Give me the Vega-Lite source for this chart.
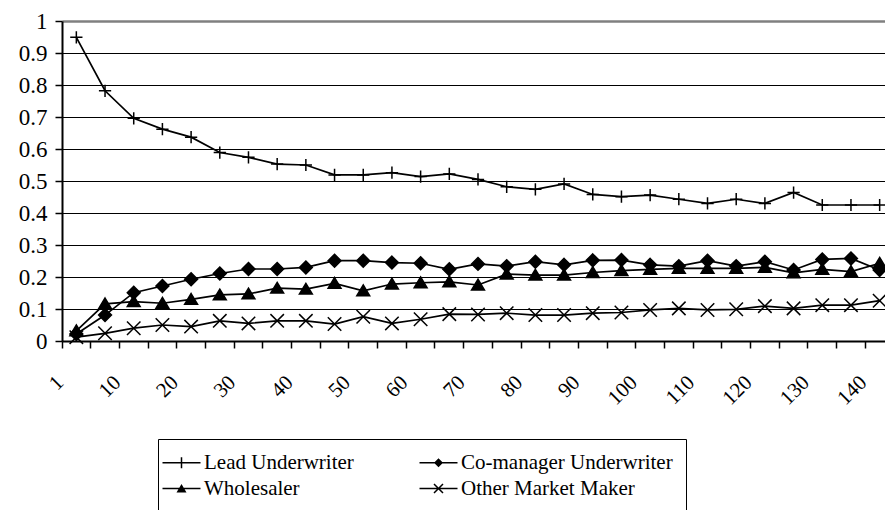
{
"$schema": "https://vega.github.io/schema/vega-lite/v6.json",
"autosize": "none",
"width": 823, "height": 320,
"padding": {"left": 62, "top": 21, "right": 0, "bottom": 169},
"background": "white",
"config": {"view": {"stroke": null}, "font": "Liberation Serif"},
"data": {"values": [
{"rank":1,"series":"Lead Underwriter","value":0.949},{"rank":5,"series":"Lead Underwriter","value":0.782},{"rank":10,"series":"Lead Underwriter","value":0.696},{"rank":15,"series":"Lead Underwriter","value":0.662},{"rank":20,"series":"Lead Underwriter","value":0.637},{"rank":25,"series":"Lead Underwriter","value":0.589},{"rank":30,"series":"Lead Underwriter","value":0.574},{"rank":35,"series":"Lead Underwriter","value":0.553},{"rank":40,"series":"Lead Underwriter","value":0.55},{"rank":45,"series":"Lead Underwriter","value":0.519},{"rank":50,"series":"Lead Underwriter","value":0.519},{"rank":55,"series":"Lead Underwriter","value":0.526},{"rank":60,"series":"Lead Underwriter","value":0.514},{"rank":65,"series":"Lead Underwriter","value":0.522},{"rank":70,"series":"Lead Underwriter","value":0.505},{"rank":75,"series":"Lead Underwriter","value":0.482},{"rank":80,"series":"Lead Underwriter","value":0.474},{"rank":85,"series":"Lead Underwriter","value":0.491},{"rank":90,"series":"Lead Underwriter","value":0.458},{"rank":95,"series":"Lead Underwriter","value":0.451},{"rank":100,"series":"Lead Underwriter","value":0.456},{"rank":105,"series":"Lead Underwriter","value":0.443},{"rank":110,"series":"Lead Underwriter","value":0.43},{"rank":115,"series":"Lead Underwriter","value":0.443},{"rank":120,"series":"Lead Underwriter","value":0.43},{"rank":125,"series":"Lead Underwriter","value":0.464},{"rank":130,"series":"Lead Underwriter","value":0.425},{"rank":135,"series":"Lead Underwriter","value":0.425},{"rank":140,"series":"Lead Underwriter","value":0.425},
{"rank":1,"series":"Co-manager Underwriter","value":0.022},{"rank":5,"series":"Co-manager Underwriter","value":0.081},{"rank":10,"series":"Co-manager Underwriter","value":0.151},{"rank":15,"series":"Co-manager Underwriter","value":0.172},{"rank":20,"series":"Co-manager Underwriter","value":0.193},{"rank":25,"series":"Co-manager Underwriter","value":0.211},{"rank":30,"series":"Co-manager Underwriter","value":0.225},{"rank":35,"series":"Co-manager Underwriter","value":0.225},{"rank":40,"series":"Co-manager Underwriter","value":0.23},{"rank":45,"series":"Co-manager Underwriter","value":0.251},{"rank":50,"series":"Co-manager Underwriter","value":0.251},{"rank":55,"series":"Co-manager Underwriter","value":0.245},{"rank":60,"series":"Co-manager Underwriter","value":0.243},{"rank":65,"series":"Co-manager Underwriter","value":0.224},{"rank":70,"series":"Co-manager Underwriter","value":0.241},{"rank":75,"series":"Co-manager Underwriter","value":0.234},{"rank":80,"series":"Co-manager Underwriter","value":0.248},{"rank":85,"series":"Co-manager Underwriter","value":0.238},{"rank":90,"series":"Co-manager Underwriter","value":0.252},{"rank":95,"series":"Co-manager Underwriter","value":0.253},{"rank":100,"series":"Co-manager Underwriter","value":0.238},{"rank":105,"series":"Co-manager Underwriter","value":0.234},{"rank":110,"series":"Co-manager Underwriter","value":0.251},{"rank":115,"series":"Co-manager Underwriter","value":0.234},{"rank":120,"series":"Co-manager Underwriter","value":0.248},{"rank":125,"series":"Co-manager Underwriter","value":0.222},{"rank":130,"series":"Co-manager Underwriter","value":0.255},{"rank":135,"series":"Co-manager Underwriter","value":0.258},{"rank":140,"series":"Co-manager Underwriter","value":0.222},
{"rank":1,"series":"Wholesaler","value":0.032},{"rank":5,"series":"Wholesaler","value":0.116},{"rank":10,"series":"Wholesaler","value":0.123},{"rank":15,"series":"Wholesaler","value":0.118},{"rank":20,"series":"Wholesaler","value":0.13},{"rank":25,"series":"Wholesaler","value":0.144},{"rank":30,"series":"Wholesaler","value":0.147},{"rank":35,"series":"Wholesaler","value":0.165},{"rank":40,"series":"Wholesaler","value":0.162},{"rank":45,"series":"Wholesaler","value":0.18},{"rank":50,"series":"Wholesaler","value":0.157},{"rank":55,"series":"Wholesaler","value":0.178},{"rank":60,"series":"Wholesaler","value":0.182},{"rank":65,"series":"Wholesaler","value":0.185},{"rank":70,"series":"Wholesaler","value":0.175},{"rank":75,"series":"Wholesaler","value":0.209},{"rank":80,"series":"Wholesaler","value":0.206},{"rank":85,"series":"Wholesaler","value":0.206},{"rank":90,"series":"Wholesaler","value":0.214},{"rank":95,"series":"Wholesaler","value":0.22},{"rank":100,"series":"Wholesaler","value":0.224},{"rank":105,"series":"Wholesaler","value":0.227},{"rank":110,"series":"Wholesaler","value":0.227},{"rank":115,"series":"Wholesaler","value":0.227},{"rank":120,"series":"Wholesaler","value":0.23},{"rank":125,"series":"Wholesaler","value":0.213},{"rank":130,"series":"Wholesaler","value":0.224},{"rank":135,"series":"Wholesaler","value":0.217},{"rank":140,"series":"Wholesaler","value":0.243},
{"rank":1,"series":"Other Market Maker","value":0.012},{"rank":5,"series":"Other Market Maker","value":0.024},{"rank":10,"series":"Other Market Maker","value":0.04},{"rank":15,"series":"Other Market Maker","value":0.05},{"rank":20,"series":"Other Market Maker","value":0.045},{"rank":25,"series":"Other Market Maker","value":0.063},{"rank":30,"series":"Other Market Maker","value":0.055},{"rank":35,"series":"Other Market Maker","value":0.063},{"rank":40,"series":"Other Market Maker","value":0.063},{"rank":45,"series":"Other Market Maker","value":0.053},{"rank":50,"series":"Other Market Maker","value":0.076},{"rank":55,"series":"Other Market Maker","value":0.055},{"rank":60,"series":"Other Market Maker","value":0.068},{"rank":65,"series":"Other Market Maker","value":0.084},{"rank":70,"series":"Other Market Maker","value":0.083},{"rank":75,"series":"Other Market Maker","value":0.087},{"rank":80,"series":"Other Market Maker","value":0.081},{"rank":85,"series":"Other Market Maker","value":0.081},{"rank":90,"series":"Other Market Maker","value":0.087},{"rank":95,"series":"Other Market Maker","value":0.089},{"rank":100,"series":"Other Market Maker","value":0.097},{"rank":105,"series":"Other Market Maker","value":0.102},{"rank":110,"series":"Other Market Maker","value":0.097},{"rank":115,"series":"Other Market Maker","value":0.099},{"rank":120,"series":"Other Market Maker","value":0.109},{"rank":125,"series":"Other Market Maker","value":0.102},{"rank":130,"series":"Other Market Maker","value":0.112},{"rank":135,"series":"Other Market Maker","value":0.112},{"rank":140,"series":"Other Market Maker","value":0.126}
]},
"encoding": {
  "x": {"field": "rank", "type": "ordinal", "bandPosition": 0.5, "sort": "ascending",
    "scale": {"type": "band", "paddingInner": 0, "paddingOuter": 0, "range": [0, 832]},
    "axis": {"title": null, "bandPosition": 0, "grid": false,
      "labelExpr": "datum.value == 1 || datum.value % 10 == 0 ? datum.label : ''",
      "labelAngle": -45, "labelAlign": "right", "labelBaseline": "middle",
      "labelPadding": 31, "labelOffset": -16, "labelFontSize": 21, "labelFont": "Liberation Serif",
      "labelColor": "black", "labelOverlap": false, "labelBound": false,
      "tickColor": "black", "tickSize": 7, "tickWidth": 1.5,
      "domainColor": "black", "domainWidth": 2}},
  "y": {"field": "value", "type": "quantitative", "scale": {"domain": [0, 1], "nice": false, "zero": true},
    "axis": {"title": null, "values": [0, 0.1, 0.2, 0.3, 0.4, 0.5, 0.6, 0.7, 0.8, 0.9, 1], "format": "~g",
      "labelFontSize": 23, "labelFont": "Liberation Serif", "labelColor": "black", "labelPadding": 8,
      "tickColor": "black", "tickSize": 7, "tickWidth": 1.5,
      "domainColor": "black", "domainWidth": 2,
      "grid": true,
      "gridColor": {"condition": {"test": "datum.value == 1", "value": "#808080"}, "value": "black"},
      "gridWidth": {"condition": {"test": "datum.value == 1", "value": 2.5}, "value": 1},
      "gridOpacity": 1}}
},
"layer": [
  {"mark": {"type": "line", "color": "black", "strokeWidth": 1.7}, "encoding": {"detail": {"field": "series"}}},
  {"mark": {"type": "point", "fill": "black", "stroke": "black", "strokeWidth": 1.5, "opacity": 1, "fillOpacity": 1, "size": 150},
   "encoding": {"shape": {"field": "series", "type": "nominal", "legend": null,
     "scale": {"domain": ["Lead Underwriter", "Co-manager Underwriter", "Wholesaler", "Other Market Maker"],
               "range": ["M-1,0H1M0,-1V1", "M0,-1.05L1.05,0L0,1.05L-1.05,0Z", "M0,-0.95L1.05,0.8L-1.05,0.8Z", "M-1.1,-1.1L1.1,1.1M-1.1,1.1L1.1,-1.1"]}}}},
  {"transform": [{"filter": "false"}],
   "mark": {"type": "point", "filled": true, "color": "black", "opacity": 1, "size": 400},
   "encoding": {"shape": {"field": "series", "type": "nominal",
     "scale": {"domain": ["Lead Underwriter", "Wholesaler", "Co-manager Underwriter", "Other Market Maker"],
               "range": [
                 "M-1.9,-0.075L-1.9,0.075L1.9,0.075L1.9,-0.075ZM-0.075,-0.55L-0.075,0.55L0.075,0.55L0.075,-0.55Z",
                 "M-1.9,-0.075L-1.9,0.075L1.9,0.075L1.9,-0.075ZM0,-0.45L-0.5,0.4L0.5,0.4Z",
                 "M-1.9,-0.075L-1.9,0.075L1.9,0.075L1.9,-0.075ZM0,-0.45L-0.45,0L0,0.45L0.45,0Z",
                 "M-1.9,-0.075L-1.9,0.075L1.9,0.075L1.9,-0.075ZM-0.503,-0.397L0.397,0.503L0.503,0.397L-0.397,-0.503ZM-0.397,0.503L0.503,-0.397L0.397,-0.503L-0.503,0.397Z"]},
     "legend": {"title": null, "orient": "none", "legendX": 96, "legendY": 418, "columns": 2,
       "columnPadding": 65, "rowPadding": 4, "padding": 13, "strokeColor": "black",
       "labelFont": "Liberation Serif", "labelFontSize": 21, "labelColor": "black", "labelOffset": 12, "labelLimit": 400,
       "symbolSize": 400, "symbolStrokeWidth": 0, "symbolOpacity": 1, "symbolFillColor": "black"}}}}
],
"resolve": {"scale": {"shape": "independent"}}
}
